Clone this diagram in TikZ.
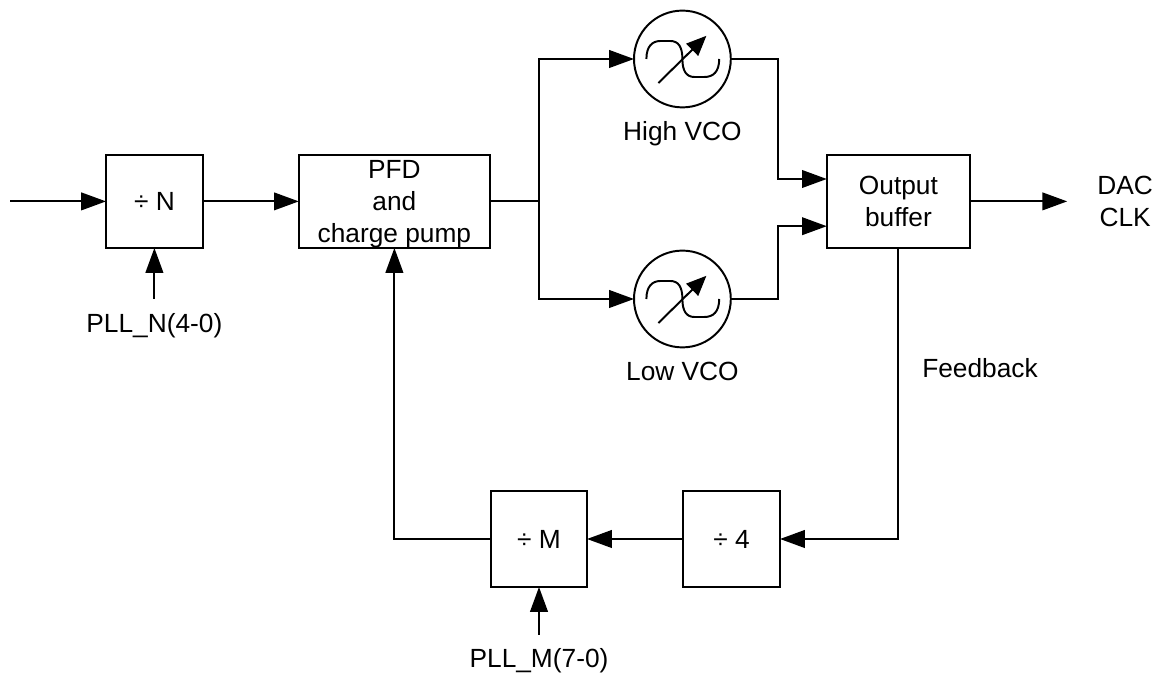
\documentclass[tikz,border=0pt]{standalone}
\usepackage{fontspec}
\setmainfont{Liberation Sans}
\usepackage{xcolor}
\usepackage{tikz}
\usetikzlibrary{arrows.meta, calc}

\begin{document}
\begin{tikzpicture}[
  blk/.style={
    rectangle, draw=black, fill=white, inner sep=0pt, outer sep=0pt,
    minimum height=2.33cm, align=center, line width=1.4pt
  },
  vco/.style={
    circle, draw=black, fill=white, inner sep=0pt, outer sep=0pt,
    minimum size=2.42cm, line width=1.4pt
  },
  lbl/.style={inner sep=0pt, align=center},
  arr/.style={-{Triangle[length=0.62cm, width=0.44cm]}, draw=black, line width=1.4pt},
  wire/.style={draw=black, line width=1.4pt},
  every node/.append style={font=\fontsize{18.7}{23}\selectfont}
]

\useasboundingbox (0, 0) rectangle (28.85, 16.825);

% -- Fila superior --
\node[blk, minimum width=2.42cm] (divn) at (3.86, 11.79) {÷ N};
\node[blk, minimum width=4.78cm, text depth=0pt] (pfd)  at (9.86, 11.79) {PFD\\and\\charge pump};
\node[blk, minimum width=3.58cm] (outbuf) at (22.46, 11.79) {Output\\buffer};

% -- VCO --
\node[vco] (hivco) at (17.06, 15.35) {};
\node[vco] (lovco) at (17.06, 9.35) {};
\foreach \v in {hivco, lovco} {
  \begin{scope}[shift={(\v.center)}]
    \draw[wire] (-0.9,0) .. controls (-0.9,0.32) and (-0.75,0.45) .. (-0.55,0.45) -- (-0.3,0.45)
      .. controls (-0.1,0.45) and (0,0.3) .. (0,0)
      .. controls (0,-0.3) and (0.1,-0.45) .. (0.3,-0.45) -- (0.55,-0.45)
      .. controls (0.77,-0.45) and (0.92,-0.32) .. (0.92,0);
    \draw[-{Triangle[length=0.5cm, width=0.42cm]}, wire] (-0.6,-0.6) -- (0.6,0.58);
  \end{scope}
}
\node[lbl] (hilbl) at (17.06, 13.48) {High VCO};
\node[lbl] (lolbl) at (17.06, 7.53) {Low VCO};

% -- Fila inferior --
\node[blk, minimum width=2.4cm, minimum height=2.4cm] (divm) at (13.475, 3.35) {÷ M};
\node[blk, minimum width=2.42cm, minimum height=2.4cm] (div4) at (18.29, 3.35) {÷ 4};

% -- Etiquetas --
\node[lbl] (plln) at (3.86, 8.68) {PLL\_N(4-0)};
\node[lbl] (pllm) at (13.475, 0.3) {PLL\_M(7-0)};
\node[lbl] (fb) at (24.5, 7.63) {Feedback};
\node[lbl] (dac) at (28.13, 11.79) {DAC\\CLK};

% -- Puntos libres --
\coordinate (in) at (0.25, 11.79);
\coordinate (out) at (26.68, 11.79);
\coordinate (nctl) at (3.86, 9.35);
\coordinate (mctl) at (13.475, 0.95);
\coordinate (split) at (13.475, 11.79);

% -- Flechas --
\draw[arr] (in) -- (divn.west);
\draw[arr] (divn.east) -- (pfd.west);
\draw[arr] (nctl) -- (divn.south);
\draw[wire] (pfd.east) -- (split);
\draw[arr] (split) |- (hivco.west);
\draw[arr] (split) |- (lovco.west);
\draw[arr] (hivco.east) -- ++(1.18,0) |- ($(outbuf.west)+(0,0.56)$);
\draw[arr] (lovco.east) -- ++(1.18,0) |- ($(outbuf.west)+(0,-0.62)$);
\draw[arr] (outbuf.east) -- (out);
\draw[arr] (outbuf.south) |- (div4.east);
\draw[arr] (div4.west) -- (divm.east);
\draw[arr] (divm.west) -| (pfd.south);
\draw[arr] (mctl) -- (divm.south);

\end{tikzpicture}
\end{document}
